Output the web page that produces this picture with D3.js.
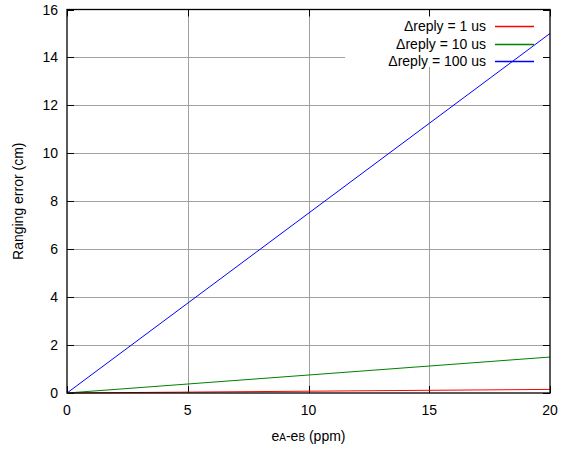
<!DOCTYPE html>
<html>
<head>
<meta charset="utf-8">
<script src="https://cdn.jsdelivr.net/npm/d3@7"></script>
<style>
  body { margin: 0; background: #fff; }
  svg { font-family: "Liberation Sans", Arial, sans-serif; }
</style>
</head>
<body>
<script>
// clock offset eA-eB in ppm
var offsets = [0, 20];
// ranging error (cm) at each offset, one list per reply time
var err1us = [0, 0.15];
var err10us = [0, 1.5];
var err100us = [0, 15];

var seriesNames = ['\u0394reply = 1 us', '\u0394reply = 10 us', '\u0394reply = 100 us'];
var seriesColors = ['#ff0000', '#008000', '#0000ff'];
var seriesValues = [err1us, err10us, err100us];

var xTicks = [0, 5, 10, 15, 20];
var yTicks = [0, 2, 4, 6, 8, 10, 12, 14, 16];

(function () {
    var W = 561, H = 449;
    var pl = 67, pr = 550, pt = 9.5, pb = 393;
    var fs = 14;

    var svg = d3.select('body').append('svg')
        .attr('width', W).attr('height', H);

    var x = d3.scaleLinear().domain([0, 20]).range([pl, pr]);
    var y = d3.scaleLinear().domain([0, 16]).range([pb, pt]);

    // legend box area hides grid lines behind it
    var legL = 345, legB = 67;

    var grid = svg.append('g').attr('stroke', '#a0a0a0').attr('stroke-width', 1);

    yTicks.slice(1, -1).forEach(function(t) {
        var yy = Math.round(y(t)) + 0.5;
        var x2 = yy < legB ? legL : pr;
        grid.append('line').attr('x1', pl).attr('x2', x2).attr('y1', yy).attr('y2', yy);
    });
    xTicks.slice(1, -1).forEach(function(t) {
        var xx = Math.round(x(t)) + 0.5;
        var y2 = xx > legL ? legB : pt;
        grid.append('line').attr('x1', xx).attr('x2', xx).attr('y1', pb).attr('y2', y2);
    });

    // inward ticks on all four sides
    var ticks = svg.append('g').attr('stroke', '#000').attr('stroke-width', 1);
    yTicks.forEach(function(t) {
        var yy = Math.round(y(t)) + 0.5;
        ticks.append('line').attr('x1', pl).attr('x2', pl + 7).attr('y1', yy).attr('y2', yy);
        ticks.append('line').attr('x1', pr).attr('x2', pr - 7).attr('y1', yy).attr('y2', yy);
    });
    xTicks.forEach(function(t) {
        var xx = Math.round(x(t)) + 0.5;
        ticks.append('line').attr('x1', xx).attr('x2', xx).attr('y1', pb).attr('y2', pb - 7);
        ticks.append('line').attr('x1', xx).attr('x2', xx).attr('y1', pt).attr('y2', pt + 7);
    });

    // series lines
    var line = d3.line()
        .x(function(d, i) { return x(offsets[i]); })
        .y(function(d) { return y(d); });

    seriesValues.forEach(function(vals, i) {
        svg.append('path')
            .attr('d', line(vals))
            .attr('fill', 'none')
            .attr('stroke', seriesColors[i])
            .attr('stroke-width', 1);
    });

    // frame
    svg.append('rect')
        .attr('x', pl).attr('y', pt)
        .attr('width', pr - pl).attr('height', pb - pt)
        .attr('fill', 'none').attr('stroke', '#000').attr('stroke-width', 1.3);

    // tick labels
    svg.append('g').selectAll('text').data(yTicks).enter().append('text')
        .attr('x', pl - 9).attr('y', function(d) { return y(d) + 5; })
        .attr('text-anchor', 'end').attr('font-size', fs)
        .text(function(d) { return d; });

    svg.append('g').selectAll('text').data(xTicks).enter().append('text')
        .attr('x', function(d) { return x(d); }).attr('y', pb + 22)
        .attr('text-anchor', 'middle').attr('font-size', fs)
        .text(function(d) { return d; });

    // axis titles
    svg.append('text')
        .attr('transform', 'translate(23,' + ((pt + pb) / 2) + ') rotate(-90)')
        .attr('text-anchor', 'middle').attr('font-size', fs)
        .text('Ranging error (cm)');

    var xl = svg.append('text')
        .attr('x', (pl + pr) / 2).attr('y', 441)
        .attr('text-anchor', 'middle').attr('font-size', fs);
    xl.append('tspan').text('e');
    xl.append('tspan').attr('font-size', 10).text('A');
    xl.append('tspan').text('-e');
    xl.append('tspan').attr('font-size', 10).text('B');
    xl.append('tspan').text(' (ppm)');

    // legend
    var legY = [26, 43.5, 61];
    seriesNames.forEach(function(name, i) {
        svg.append('text')
            .attr('x', 486).attr('y', legY[i] + 5)
            .attr('text-anchor', 'end').attr('font-size', fs)
            .text(name);
        svg.append('line')
            .attr('x1', 495).attr('x2', 534)
            .attr('y1', Math.round(legY[i]) + 0.5).attr('y2', Math.round(legY[i]) + 0.5)
            .attr('stroke', seriesColors[i]).attr('stroke-width', 1.3);
    });
})();
</script>
</body>
</html>
